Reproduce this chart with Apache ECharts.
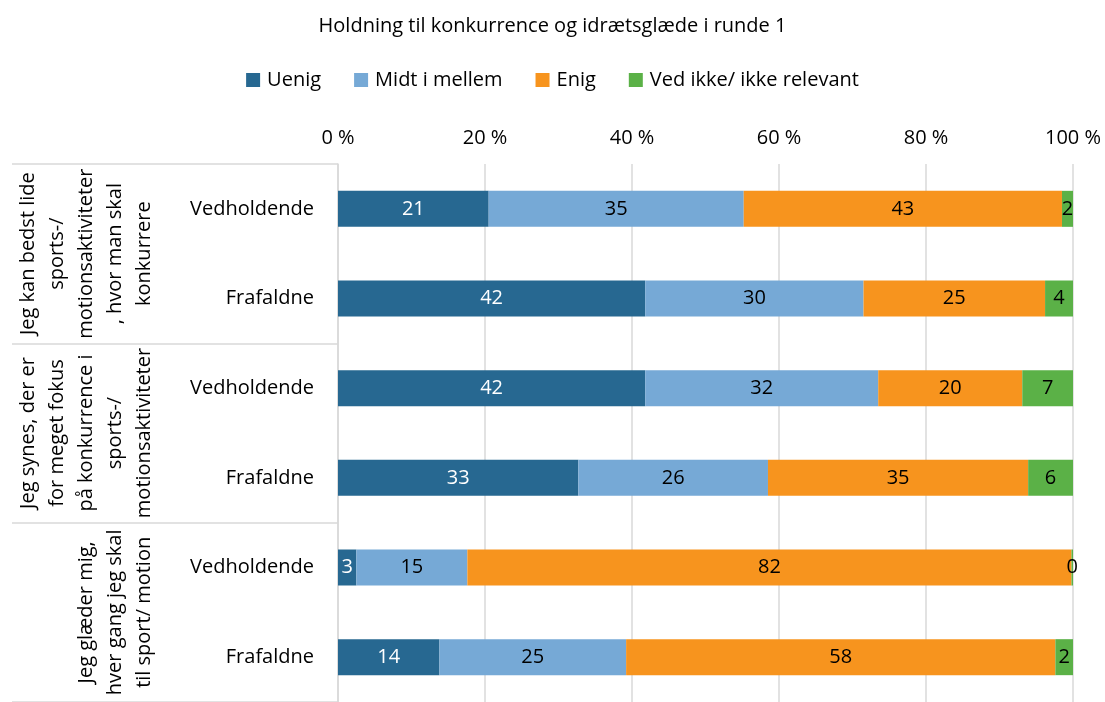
<!DOCTYPE html>
<html>
<head>
<meta charset="utf-8">
<script src="https://cdn.jsdelivr.net/npm/echarts@6/dist/echarts.min.js"></script>
<style>
  html, body { margin: 0; padding: 0; background: #fff; }
  #chart { width: 1105px; height: 702px; }
</style>
</head>
<body>
<div id="chart"></div>
<script>
// kategorier (6 rækker, 3 udsagn x 2 grupper)
var groups = ['Vedholdende', 'Frafaldne', 'Vedholdende', 'Frafaldne', 'Vedholdende', 'Frafaldne'];
var statements = [
  'Jeg kan bedst lide\nsports-/\nmotionsaktiviteter\n, hvor man skal\nkonkurrere',
  'Jeg synes, der er\nfor meget fokus\npå konkurrence i\nsports-/\nmotionsaktiviteter',
  'Jeg glæder mig,\nhver gang jeg skal\ntil sport/ motion'
];
var seriesNames = ['Uenig', 'Midt i mellem', 'Enig', 'Ved ikke/ ikke relevant'];
var uenig  = [20.5, 41.8, 41.8, 32.7, 2.5, 13.8];
var midt   = [34.7, 29.7, 31.7, 25.8, 15.1, 25.4];
var enig   = [43.3, 24.7, 19.6, 35.4, 82.2, 58.4];
var vedIkke = [1.5, 3.8, 6.9, 6.1, 0.2, 2.4];
var xTicks = [0, 20, 40, 60, 80, 100];

var colors = ['#276891', '#76a9d6', '#f7941e', '#5bb147'];
var font = '"Open Sans", "Noto Sans", sans-serif';
var fs = 20;

var myChart = echarts.init(document.getElementById('chart'));

function bar(name, values, labelColor) {
  return {
    name: name,
    type: 'bar',
    stack: 'total',
    barWidth: 36,
    data: values,
    label: {
      show: true,
      position: 'inside',
      color: labelColor,
      fontSize: fs,
      fontFamily: font,
      formatter: function (p) { return Math.round(p.value); }
    }
  };
}

myChart.setOption({
  color: colors,
  animation: false,
  textStyle: { fontFamily: font },
  title: {
    text: 'Holdning til konkurrence og idrætsglæde i runde 1',
    left: 'center',
    top: 11,
    textStyle: { fontSize: fs, fontWeight: 'normal', color: '#000', fontFamily: font }
  },
  legend: {
    top: 65,
    left: 'center',
    itemWidth: 14,
    itemHeight: 14,
    itemGap: 33,
    icon: 'rect',
    textStyle: { fontSize: fs, color: '#000', fontFamily: font, padding: [0, 0, 0, 2] },
    data: seriesNames
  },
  grid: { left: 338, right: 32, top: 164, bottom: -5, containLabel: false },
  xAxis: {
    type: 'value',
    position: 'top',
    min: xTicks[0],
    max: xTicks[xTicks.length - 1],
    interval: 20,
    axisLine: { show: false },
    axisTick: { show: false },
    axisLabel: { fontSize: fs, color: '#000', margin: 16, formatter: '{value} %' },
    splitLine: { lineStyle: { color: '#d9d9d9', width: 1.5 } }
  },
  yAxis: [
    {
      type: 'category',
      inverse: true,
      data: groups,
      axisLine: { lineStyle: { color: '#d9d9d9', width: 1.5 } },
      axisTick: { show: false },
      axisLabel: { interval: 0, fontSize: fs, color: '#000', margin: 24 }
    },
    {
      type: 'category',
      inverse: true,
      position: 'left',
      data: statements,
      axisLine: { show: false },
      axisTick: { show: true, interval: 0, length: 326, lineStyle: { color: '#d9d9d9', width: 1.5 } },
      axisLabel: {
        interval: 0,
        hideOverlap: false,
        rotate: 90,
        fontSize: fs,
        lineHeight: 29,
        color: '#000',
        margin: 179,
        align: 'center'
      }
    }
  ],
  series: [
    bar(seriesNames[0], uenig, '#fff'),
    bar(seriesNames[1], midt, '#000'),
    bar(seriesNames[2], enig, '#000'),
    bar(seriesNames[3], vedIkke, '#000')
  ]
});
</script>
</body>
</html>
